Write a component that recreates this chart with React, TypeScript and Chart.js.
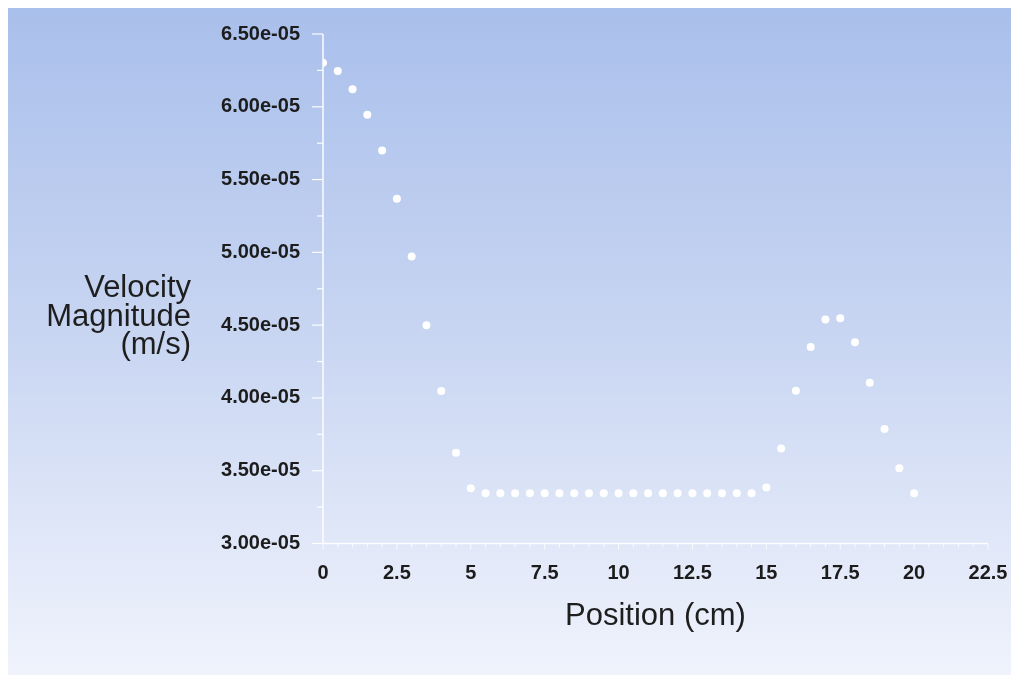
import React, { useEffect, useRef } from "react";
import { Chart, registerables } from "chart.js";

Chart.register(...registerables);

const positions = [
  0, 0.5, 1, 1.5, 2, 2.5, 3, 3.5, 4, 4.5, 5, 5.5, 6, 6.5, 7, 7.5, 8, 8.5, 9, 9.5,
  10, 10.5, 11, 11.5, 12, 12.5, 13, 13.5, 14, 14.5, 15, 15.5, 16, 16.5, 17, 17.5,
  18, 18.5, 19, 19.5, 20,
];

const velocities = [
  6.303e-5, 6.246e-5, 6.12e-5, 5.946e-5, 5.7e-5, 5.369e-5, 4.971e-5, 4.5e-5, 4.048e-5,
  3.624e-5, 3.38e-5, 3.345e-5, 3.345e-5, 3.345e-5, 3.345e-5, 3.345e-5, 3.345e-5,
  3.345e-5, 3.345e-5, 3.345e-5, 3.345e-5, 3.345e-5, 3.345e-5, 3.345e-5, 3.345e-5,
  3.345e-5, 3.345e-5, 3.345e-5, 3.345e-5, 3.345e-5, 3.384e-5, 3.652e-5, 4.05e-5,
  4.35e-5, 4.538e-5, 4.547e-5, 4.382e-5, 4.105e-5, 3.787e-5, 3.517e-5, 3.345e-5,
];

const xTicks = [0, 2.5, 5, 7.5, 10, 12.5, 15, 17.5, 20, 22.5];
const yTicks = [3.0e-5, 3.5e-5, 4.0e-5, 4.5e-5, 5.0e-5, 5.5e-5, 6.0e-5, 6.5e-5];
const xTickLabels = ["0", "2.5", "5", "7.5", "10", "12.5", "15", "17.5", "20", "22.5"];
const yTickLabels = [
  "3.00e-05", "3.50e-05", "4.00e-05", "4.50e-05", "5.00e-05", "5.50e-05", "6.00e-05", "6.50e-05",
];
const yTitleLines = ["Velocity", "Magnitude", "(m/s)"];
const xTitle = "Position (cm)";

const FONT = "'Liberation Sans', Arial, sans-serif";

const bgPlugin = {
  id: "bgGradient",
  beforeDraw(chart: any) {
    const { ctx, width, height } = chart;
    const g = ctx.createLinearGradient(0, 0, 0, height);
    g.addColorStop(0, "#a9bfeb");
    g.addColorStop(0.5, "#c9d6f2");
    g.addColorStop(1, "#f0f3fc");
    ctx.save();
    ctx.fillStyle = g;
    ctx.fillRect(0, 0, width, height);
    ctx.restore();
  },
};

const axesPlugin = {
  id: "customAxes",
  beforeDatasetsDraw(chart: any) {
    const { ctx } = chart;
    const xs = chart.scales.x;
    const ys = chart.scales.y;
    const x0 = xs.getPixelForValue(xTicks[0]);
    const x1 = xs.getPixelForValue(xTicks[xTicks.length - 1]);
    const y0 = ys.getPixelForValue(yTicks[0]);
    const y1 = ys.getPixelForValue(yTicks[yTicks.length - 1]);
    ctx.save();
    ctx.strokeStyle = "rgba(255,255,255,0.95)";
    ctx.lineWidth = 1.5;
    ctx.beginPath();
    ctx.moveTo(x0, y1);
    ctx.lineTo(x0, y0);
    ctx.lineTo(x1, y0);
    ctx.stroke();
    ctx.lineWidth = 1.2;
    for (let i = 0; i < yTicks.length; i++) {
      const py = ys.getPixelForValue(yTicks[i]);
      ctx.beginPath();
      ctx.moveTo(x0 - 11, py);
      ctx.lineTo(x0, py);
      ctx.stroke();
      if (i < yTicks.length - 1) {
        const pm = ys.getPixelForValue((yTicks[i] + yTicks[i + 1]) / 2);
        ctx.beginPath();
        ctx.moveTo(x0 - 6, pm);
        ctx.lineTo(x0, pm);
        ctx.stroke();
      }
    }
    ctx.strokeStyle = "rgba(255,255,255,0.8)";
    ctx.lineWidth = 1;
    for (let i = 0; i < xTicks.length; i++) {
      const px = xs.getPixelForValue(xTicks[i]);
      ctx.beginPath();
      ctx.moveTo(px, y0);
      ctx.lineTo(px, y0 + 6);
      ctx.stroke();
      if (i < xTicks.length - 1) {
        const step = (xTicks[i + 1] - xTicks[i]) / 5;
        for (let k = 1; k < 5; k++) {
          const pm = xs.getPixelForValue(xTicks[i] + step * k);
          ctx.beginPath();
          ctx.moveTo(pm, y0);
          ctx.lineTo(pm, y0 + 4);
          ctx.stroke();
        }
      }
    }
    ctx.restore();
  },
};

const titlesPlugin = {
  id: "axisTitles",
  afterDraw(chart: any) {
    const { ctx, chartArea } = chart;
    ctx.save();
    ctx.fillStyle = "#1e1e1e";
    ctx.font = `31px ${FONT}`;
    ctx.textAlign = "right";
    ctx.textBaseline = "alphabetic";
    const baseY = 289;
    for (let i = 0; i < yTitleLines.length; i++) {
      ctx.fillText(yTitleLines[i], 183, baseY + i * 28.5);
    }
    ctx.textAlign = "center";
    ctx.fillText(xTitle, (chartArea.left + chartArea.right) / 2, 617);
    ctx.restore();
  },
};

export default function App() {
  const canvasRef = useRef<HTMLCanvasElement | null>(null);

  useEffect(() => {
    if (!canvasRef.current) return;
    const chart = new Chart(canvasRef.current, {
      type: "scatter",
      data: {
        datasets: [
          {
            label: "Velocity Magnitude",
            data: positions.map((x, i) => ({ x, y: velocities[i] })),
            pointRadius: 4,
            pointHoverRadius: 4,
            pointBackgroundColor: "#ffffff",
            pointBorderWidth: 0,
            borderWidth: 0,
            showLine: false,
          },
        ],
      },
      options: {
        animation: false,
        responsive: false,
        events: [],
        layout: { padding: { top: 26, right: 31, left: 0, bottom: 0 } },
        plugins: {
          legend: { display: false },
          tooltip: { enabled: false },
          title: { display: false },
        },
        scales: {
          x: {
            type: "linear",
            min: xTicks[0],
            max: xTicks[xTicks.length - 1],
            afterBuildTicks: (s: any) => {
              s.ticks = xTicks.map((v) => ({ value: v }));
            },
            afterFit: (s: any) => {
              s.height = 131.5;
              s.paddingLeft = 0;
              s.paddingRight = 0;
            },
            grid: { display: false, drawTicks: false },
            border: { display: false },
            ticks: {
              autoSkip: false,
              maxRotation: 0,
              padding: 18,
              color: "#1c1c1c",
              font: { family: FONT, size: 20, weight: "bold" },
              callback: (v: any) => {
                const i = xTicks.indexOf(Number(v));
                return i >= 0 ? xTickLabels[i] : "";
              },
            },
          },
          y: {
            type: "linear",
            min: yTicks[0],
            max: yTicks[yTicks.length - 1],
            afterBuildTicks: (s: any) => {
              s.ticks = yTicks.map((v) => ({ value: v }));
            },
            afterFit: (s: any) => {
              s.width = 315;
              s.paddingTop = 0;
              s.paddingBottom = 0;
            },
            grid: { display: false, drawTicks: false },
            border: { display: false },
            ticks: {
              autoSkip: false,
              padding: 23,
              color: "#1c1c1c",
              font: { family: FONT, size: 20, weight: "bold" },
              callback: (v: any) => {
                let best = 0;
                for (let i = 1; i < yTicks.length; i++) {
                  if (Math.abs(yTicks[i] - v) < Math.abs(yTicks[best] - v)) best = i;
                }
                return yTickLabels[best];
              },
            },
          },
        },
      },
      plugins: [bgPlugin, axesPlugin, titlesPlugin],
    } as any);
    return () => chart.destroy();
  }, []);

  return (
    <canvas
      ref={canvasRef}
      width={1011}
      height={667}
      style={{ display: "block", width: 1011, height: 667 }}
    />
  );
}
